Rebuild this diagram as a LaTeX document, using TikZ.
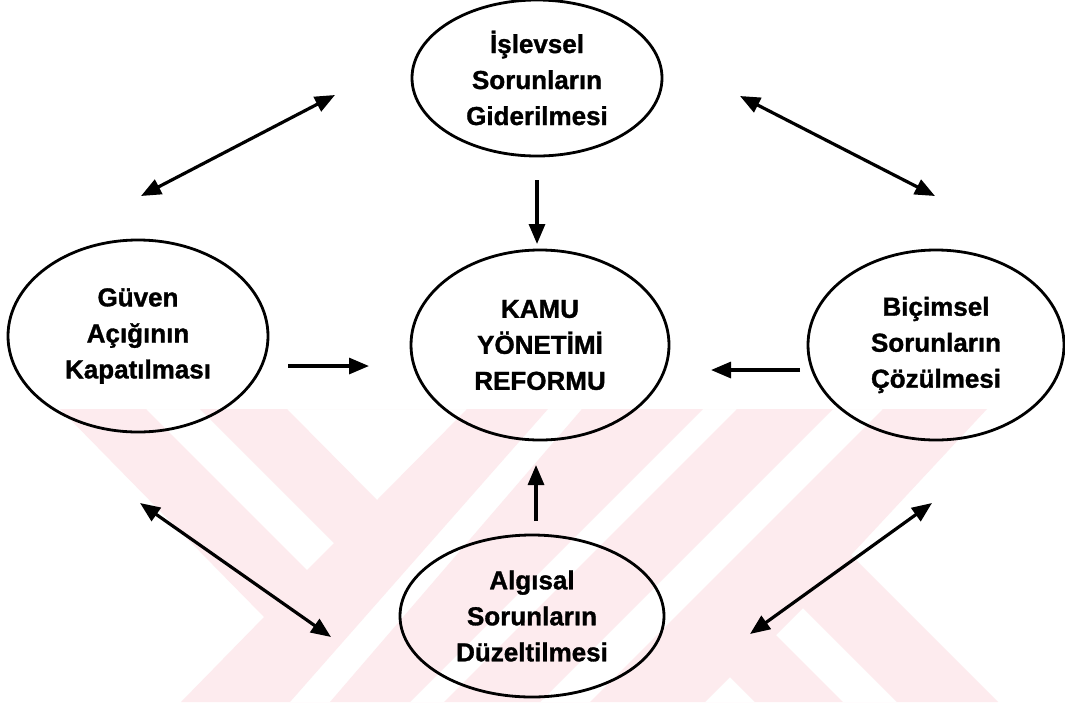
\documentclass[tikz,border=0pt]{standalone}
\usepackage{fontspec}
\setmainfont{Liberation Sans}
\newfontfamily\labelfont[FakeBold=1.2]{Liberation Sans Bold}
\usetikzlibrary{shapes.geometric,arrows.meta}
\definecolor{wmpink}{RGB}{253,235,238}
\begin{document}
\begin{tikzpicture}[x=1pt,y=-1pt,
  bubble/.style={ellipse, draw=black, line width=2.8pt, inner sep=0pt, align=center,
    font=\labelfont\fontsize{26}{36}\selectfont},
  tip/.tip={Triangle[length=20pt,width=16pt]},
  oneway/.style={line width=3.2pt, -tip},
  twoway/.style={line width=3.2pt, tip-tip}]
\useasboundingbox (0,0) rectangle (1065,702);
\fill[white] (0,0) rectangle (1065,702);

% faint striped emblem in the background
\fill[wmpink, even odd rule]
  (60,409) -- (987,409) -- (851,555) -- (998,702) -- (181,702) -- (264,617) -- cycle
  (146,409) -- (200,409) -- (334,543) -- (307,570) -- cycle
  (287,409) -- (467,409) -- (377,500) -- cycle
  (548,409) -- (582,409) -- (330,702) -- (290,702) -- cycle
  (703,409) -- (737,409) -- (444,702) -- (410,702) -- cycle
  (833,409) -- (883,409) -- (590,702) -- (540,702) -- cycle
  (803,608) -- (897,702) -- (843,702) -- (776,635) -- cycle
  (705,702) -- (730,677) -- (755,702) -- cycle;

% the five goals
\node[bubble, minimum width=250pt, minimum height=156pt] (islevsel) at (537,78)
  {İşlevsel\\Sorunların\\Giderilmesi};
\node[bubble, minimum width=258pt, minimum height=190pt] (kamu) at (540,345)
  {KAMU\\YÖNETİMİ\\REFORMU};
\node[bubble, minimum width=260pt, minimum height=192pt] (guven) at (138,336)
  {Güven\\Açığının\\Kapatılması};
\node[bubble, minimum width=256pt, minimum height=190pt] (bicimsel) at (936,345)
  {Biçimsel\\Sorunların\\Çözülmesi};
\node[bubble, minimum width=264pt, minimum height=162pt] (algisal) at (532,616)
  {Algısal\\Sorunların\\Düzeltilmesi};

% arrow end points between the ellipses
\coordinate (gi1) at (141,196);  \coordinate (gi2) at (335,95);
\coordinate (ib1) at (740,96);   \coordinate (ib2) at (935,196);
\coordinate (ik1) at (537,180);  \coordinate (ik2) at (537,244);
\coordinate (gk1) at (288,366);  \coordinate (gk2) at (369,366);
\coordinate (bk1) at (800,370);  \coordinate (bk2) at (711,370);
\coordinate (ak1) at (536,521);  \coordinate (ak2) at (536,465);
\coordinate (ga1) at (140,503);  \coordinate (ga2) at (331,637);
\coordinate (ba1) at (932,503);  \coordinate (ba2) at (750,634);

\draw[twoway] (gi1) -- (gi2);
\draw[twoway] (ib1) -- (ib2);
\draw[oneway] (ik1) -- (ik2);
\draw[oneway] (gk1) -- (gk2);
\draw[oneway] (bk1) -- (bk2);
\draw[oneway] (ak1) -- (ak2);
\draw[twoway] (ga1) -- (ga2);
\draw[twoway] (ba1) -- (ba2);
\end{tikzpicture}
\end{document}
